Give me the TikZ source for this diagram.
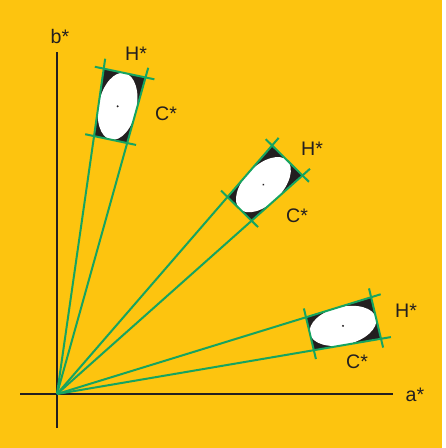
\documentclass[tikz,border=0pt]{standalone}
\usepackage{fontspec}
\setmainfont{Liberation Sans}
\usepackage{xcolor}
\usepackage{tikz}
\usetikzlibrary{positioning,calc}
\definecolor{bgyellow}{HTML}{FDC40F}
\definecolor{hueline}{HTML}{16A460}
\definecolor{quadblack}{HTML}{231F20}
\tikzset{
  axis/.style={draw=quadblack, line width=1pt},
  ray/.style={draw=hueline, line width=1pt},
  tick/.style={draw=hueline, line width=1pt},
  quad/.style={fill=quadblack},
  spot/.style={fill=white},
  lbl/.style={font=\fontsize{9.8}{11}\selectfont, text=quadblack, inner sep=0pt}
}

\begin{document}
\begin{tikzpicture}[x=0.5pt,y=0.5pt]
\fill[white] (0,0) rectangle (445,448);
\fill[bgyellow] (0,0) rectangle (442,448);
\useasboundingbox (0,0) rectangle (445,448);
\coordinate (O) at (57,54);
\coordinate (btop) at (57,396);
\coordinate (bbot) at (57,20);
\coordinate (aleft) at (20,54);
\coordinate (aright) at (393,54);
\draw[axis] (bbot) -- (btop);
\draw[axis] (aleft) -- (aright);
\node[lbl] (b) at (60,411) {b*};
\node[lbl] (a) at (415,53) {a*};

\begin{scope}[shift={(O)},rotate=78.1]
\fill[quad] (260,-16.9) -- (328,-21.4) -- (328,21.4) -- (260,16.9) -- cycle;
\fill[spot] (294,0) ellipse [x radius=34, y radius=19];
\fill[quadblack] (294,0) circle (1.1);
\coordinate (r1a) at (338,22); \coordinate (r1b) at (338,-22);
\coordinate (n1a) at (260,26); \coordinate (n1b) at (260,-26);
\coordinate (f1a) at (328,30.4); \coordinate (f1b) at (328,-30.4);
\end{scope}
\draw[ray] (O) -- (r1a);
\draw[ray] (O) -- (r1b);
\draw[tick] (n1a) -- (n1b);
\draw[tick] (f1a) -- (f1b);
\node[lbl] (h1) at (136,394) {H*};
\node[lbl] (c1) at (166,334) {C*};

\begin{scope}[shift={(O)},rotate=45.4]
\fill[quad] (260,-16.9) -- (328,-21.4) -- (328,21.4) -- (260,16.9) -- cycle;
\fill[spot] (294,0) ellipse [x radius=34, y radius=19];
\fill[quadblack] (294,0) circle (1.1);
\coordinate (r2a) at (338,22); \coordinate (r2b) at (338,-22);
\coordinate (n2a) at (260,26); \coordinate (n2b) at (260,-26);
\coordinate (f2a) at (328,30.4); \coordinate (f2b) at (328,-30.4);
\end{scope}
\draw[ray] (O) -- (r2a);
\draw[ray] (O) -- (r2b);
\draw[tick] (n2a) -- (n2b);
\draw[tick] (f2a) -- (f2b);
\node[lbl] (h2) at (312,299) {H*};
\node[lbl] (c2) at (297,232) {C*};

\begin{scope}[shift={(O)},rotate=13.4]
\fill[quad] (260,-16.9) -- (328,-21.4) -- (328,21.4) -- (260,16.9) -- cycle;
\fill[spot] (294,0) ellipse [x radius=34, y radius=19];
\fill[quadblack] (294,0) circle (1.1);
\coordinate (r3a) at (338,22); \coordinate (r3b) at (338,-22);
\coordinate (n3a) at (260,26); \coordinate (n3b) at (260,-26);
\coordinate (f3a) at (328,30.4); \coordinate (f3b) at (328,-30.4);
\end{scope}
\draw[ray] (O) -- (r3a);
\draw[ray] (O) -- (r3b);
\draw[tick] (n3a) -- (n3b);
\draw[tick] (f3a) -- (f3b);
\node[lbl] (h3) at (406,137) {H*};
\node[lbl] (c3) at (357,86) {C*};
\end{tikzpicture}
\end{document}
